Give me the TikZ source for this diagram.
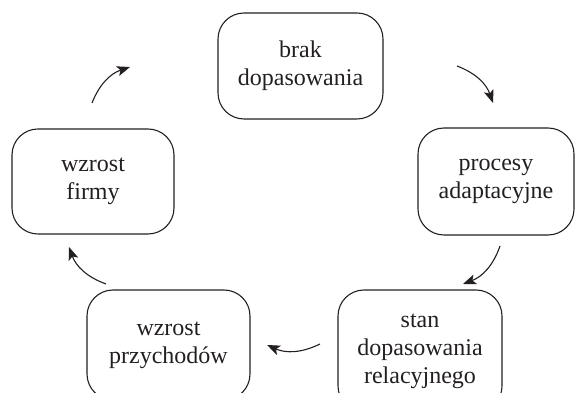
\documentclass[tikz,border=0pt]{standalone}
\usepackage{fontspec}
\setmainfont{Liberation Serif}
\usepackage{tikz}
\usetikzlibrary{arrows.meta}
\definecolor{ink}{RGB}{35,31,32}
\tikzset{box/.style={draw=ink,text=ink,line width=1.1pt,rounded corners=26pt,align=center,inner sep=0pt,font=\fontsize{24}{28}\selectfont,execute at begin node={\rule{0pt}{26pt}}}}
\tikzset{arr/.style={draw=ink,-{Stealth[length=13pt,width=10pt,inset=3pt]},line width=1.1pt,bend left=25}}

\begin{document}
\begin{tikzpicture}[x=1pt,y=1pt]
            \useasboundingbox (0,0) rectangle (575,393);
            \node[box,minimum width=165pt,minimum height=106pt] (brak) at (300.5,327) {brak\\dopasowania};
            \node[box,minimum width=156pt,minimum height=107pt] (procesy) at (496,211.5) {procesy\\adaptacyjne};
            \node[box,minimum width=164pt,minimum height=122pt] (stan) at (420,42) {stan\\dopasowania\\relacyjnego};
            \node[box,minimum width=163pt,minimum height=110pt] (przychody) at (168.5,48) {wzrost\\przychodów};
            \node[box,minimum width=162pt,minimum height=105pt] (firma) at (93,211.5) {wzrost\\firmy};
            % arrow ends
            \coordinate (a1) at (457,327);
            \coordinate (b1) at (493,290);
            \coordinate (a2) at (500,147);
            \coordinate (b2) at (463,109);
            \coordinate (a3) at (320,49);
            \coordinate (b3) at (267,48);
            \coordinate (a4) at (106,109);
            \coordinate (b4) at (69,146);
            \coordinate (a5) at (92,290);
            \coordinate (b5) at (130,326);
            \draw[arr] (a1) to (b1);
            \draw[arr] (a2) to (b2);
            \draw[arr] (a3) to (b3);
            \draw[arr] (a4) to (b4);
            \draw[arr] (a5) to (b5);
          \end{tikzpicture}
\end{document}
